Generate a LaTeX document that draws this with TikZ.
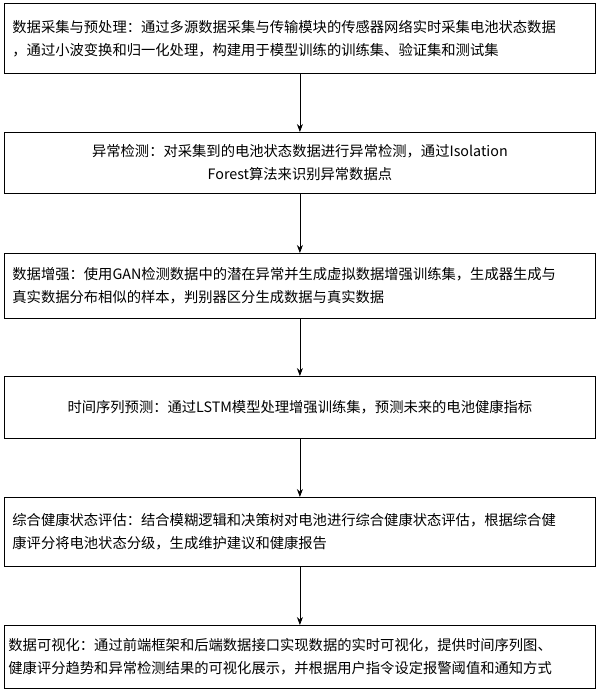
\documentclass[tikz,border=0pt]{standalone}
\usepackage{fontspec}
\setmainfont{Noto Sans CJK SC}
\usetikzlibrary{arrows.meta}
\begin{document}
\begin{tikzpicture}[x=1pt,y=-1pt,
  box/.style={draw,line width=0.8pt,minimum width=591pt,anchor=north west,inner sep=0pt,font=\fontsize{14.3}{23}\selectfont},
  arr/.style={-{Stealth[length=8pt,width=6pt]},line width=0.8pt}]
\useasboundingbox (0,0) rectangle (600,691);
\node[box,minimum height=70pt,text width=575pt,align=left] (b1) at (4,3) {数据采集与预处理：通过多源数据采集与传输模块的传感器网络实时采集电池状态数据\\，通过小波变换和归一化处理，构建用于模型训练的训练集、验证集和测试集};
\node[box,minimum height=61pt,text width=575pt,align=center] (b2) at (4,132) {异常检测：对采集到的电池状态数据进行异常检测，通过Isolation\\Forest算法来识别异常数据点};
\node[box,minimum height=65pt,text width=575pt,align=left] (b3) at (4,253) {数据增强：使用GAN检测数据中的潜在异常并生成虚拟数据增强训练集，生成器生成与\\真实数据分布相似的样本，判别器区分生成数据与真实数据};
\node[box,minimum height=62pt,text width=575pt,align=center] (b4) at (4,376) {时间序列预测：通过LSTM模型处理增强训练集，预测未来的电池健康指标};
\node[box,minimum height=69pt,text width=575pt,align=left] (b5) at (4,497) {综合健康状态评估：结合模糊逻辑和决策树对电池进行综合健康状态评估，根据综合健\\康评分将电池状态分级，生成维护建议和健康报告};
\node[box,minimum height=63pt,text width=583pt,align=left] (b6) at (4,625) {数据可视化：通过前端框架和后端数据接口实现数据的实时可视化，提供时间序列图、\\健康评分趋势和异常检测结果的可视化展示，并根据用户指令设定报警阈值和通知方式};
\draw[arr] (b1.south) -- (b2.north);
\draw[arr] (b2.south) -- (b3.north);
\draw[arr] (b3.south) -- (b4.north);
\draw[arr] (b4.south) -- (b5.north);
\draw[arr] (b5.south) -- (b6.north);
\end{tikzpicture}
\end{document}
